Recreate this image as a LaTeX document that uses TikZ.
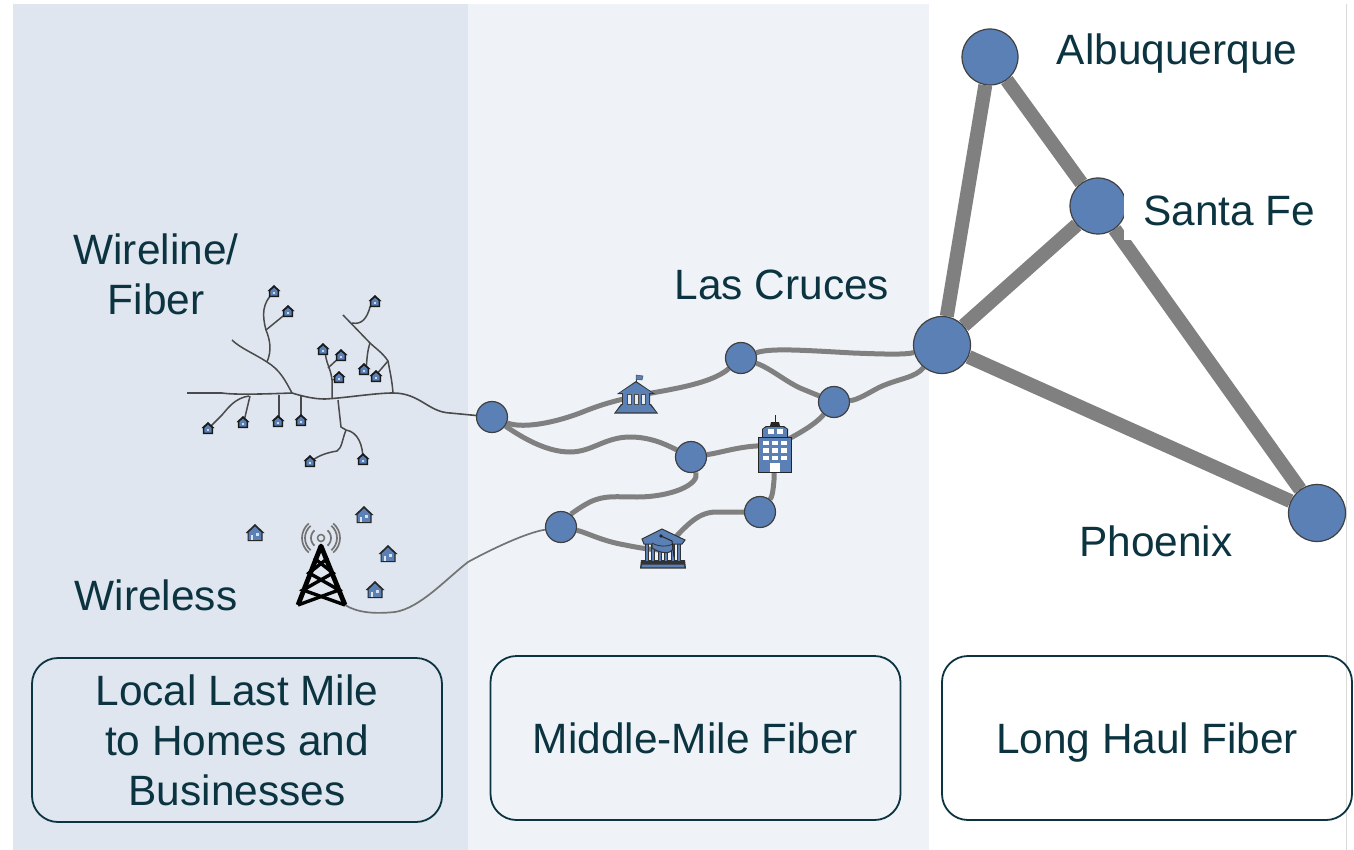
\documentclass[tikz,border=0pt]{standalone}
\usepackage{fontspec}
\setmainfont{Liberation Sans}
\definecolor{panelA}{HTML}{DFE6F0}
\definecolor{panelB}{HTML}{EFF3F8}
\definecolor{nodeblue}{HTML}{5A80B5}
\definecolor{inkdark}{HTML}{0B3440}
\definecolor{linkgrey}{HTML}{808080}
\definecolor{wire}{HTML}{4A4A4A}
\pgfdeclarelayer{panels}
\pgfdeclarelayer{links}
\pgfsetlayers{panels,links,main}
\tikzset{
  x=1pt,y=-1pt,
  hub/.style={circle,draw=black!75,fill=nodeblue,line width=1.2pt,inner sep=0pt},
  bighub/.style={hub,minimum size=56pt},
  midhub/.style={hub,minimum size=31pt},
  citytext/.style={text=inkdark,font=\fontsize{42.4}{50}\selectfont,align=center,inner sep=0pt},
  panelbox/.style={citytext,draw=inkdark,line width=1.8pt,rounded corners=26pt,minimum width=410pt,minimum height=164pt},
  longhaul/.style={draw=linkgrey,line width=14pt},
  midlink/.style={draw=linkgrey,line width=5pt},
  thinwire/.style={draw=wire,line width=1.5pt},
  wiretrunk/.style={draw=wire,line width=1.6pt},
  pics/house/.style={code={
    \fill[black!85] (-9.5,0) -- (0,-9) -- (9.5,0) -- (7.5,0) -- (7.5,8) -- (-7.5,8) -- (-7.5,0) -- cycle;
    \fill[nodeblue] (-6.3,-0.5) -- (0,-6.5) -- (6.3,-0.5) -- (6.3,6.8) -- (-6.3,6.8) -- cycle;
    \fill[white!80!nodeblue] (-4.5,1.5) rectangle (-1.8,6.8);
    \fill[white!75!nodeblue] (1,-0.5) rectangle (4.2,2.5);
  }},
  pics/smallhouse/.style={code={
    \fill[black!90] (-6.5,-1) -- (0,-7) -- (6.5,-1) -- (5.2,-1) -- (5.2,5.2) -- (-5.2,5.2) -- (-5.2,-1) -- cycle;
    \fill[nodeblue] (-3.6,-1) -- (0,-4.4) -- (3.6,-1) -- (3.6,3.7) -- (-3.6,3.7) -- cycle;
    \fill[white!70!nodeblue] (-0.9,-0.3) rectangle (1.3,1.9);
  }}
}
\begin{document}
\begin{tikzpicture}
\useasboundingbox (0,0) rectangle (1354,850);
\begin{pgfonlayer}{panels}
\fill[white] (0,0) rectangle (1354,850);
\fill[panelA] (13,4) rectangle (468,850);
\fill[panelB] (468,4) rectangle (929,850);
\draw[black!15,line width=0.9pt] (1346,4) -- (1346,850);
\end{pgfonlayer}

% long-haul hubs
\node[bighub] (alb) at (990,57) {};
\node[bighub] (sf) at (1098,206) {};
\node[bighub,minimum size=57pt] (las) at (942,345) {};
\node[bighub,minimum size=57pt] (phx) at (1317,513) {};

% middle-mile hubs
\node[midhub] (a) at (492,417) {};
\node[midhub] (b) at (741,358) {};
\node[midhub] (c) at (834,402) {};
\node[midhub] (d) at (691,457) {};
\node[midhub] (e) at (561,527) {};
\node[midhub] (f) at (760,512) {};
\coordinate (gov) at (636,396);
\coordinate (tower) at (775,446);
\coordinate (uni) at (663,550);
\coordinate (w0) at (187,393);
\coordinate (t1) at (345,605);

\begin{pgfonlayer}{links}
\path[longhaul] (alb) -- (sf);
\path[longhaul] (alb) -- (las);
\path[longhaul] (sf) -- (las);
\path[longhaul] (sf) -- (phx);
\path[longhaul] (las) -- (phx);

\path[midlink] (a) .. controls (520,428) and (548,425) .. (580,413) .. controls (600,405) and (610,402) .. (gov);
\path[midlink] (gov) .. controls (665,390) and (710,385) .. (b);
\path[midlink] (a) .. controls (520,436) and (545,452) .. (570,452) .. controls (592,452) and (605,437) .. (630,437) .. controls (650,437) and (665,444) .. (d);
\path[midlink] (b) .. controls (770,348) and (800,350) .. (853,353) .. controls (880,354) and (905,355) .. (las);
\path[midlink] (b) .. controls (770,368) and (785,381) .. (800,388) .. controls (812,393) and (822,397) .. (c);
\path[midlink] (c) .. controls (858,400) and (870,392) .. (880,387) .. controls (900,378) and (915,378) .. (las);
\path[midlink] (d) .. controls (725,452) and (745,444) .. (tower);
\path[midlink] (tower) .. controls (795,436) and (815,425) .. (c);
\path[midlink] (d) .. controls (700,485) and (670,497) .. (637,497) .. controls (615,497) and (605,495) .. (590,502) .. controls (580,507) and (570,515) .. (e);
\path[midlink] (e) .. controls (585,532) and (600,540) .. (620,544) .. controls (635,547) and (650,550) .. (uni);
\path[midlink] (uni) .. controls (685,528) and (695,513) .. (715,512) -- (f);
\path[midlink] (tower) -- (774,480) .. controls (773,492) and (772,497) .. (f);

\path[wiretrunk,line width=2.2pt] (w0) -- (222,393);
\path[wiretrunk] (222,393) .. controls (235,395) and (265,394) .. (292,393) .. controls (305,397) and (315,399) .. (325,399) .. controls (345,398) and (375,393) .. (393,393) .. controls (420,393) and (428,412) .. (450,413) -- (a);
\path[thinwire] (292,393) .. controls (285,380) and (280,370) .. (267,362) .. controls (255,354) and (240,348) .. (232,340);
\path[thinwire] (267,362) .. controls (272,350) and (270,340) .. (266,330) .. controls (262,315) and (262,303) .. (274,292);
\path[thinwire] (266,330) -- (288,312);
\path[thinwire] (249,396) .. controls (235,398) and (228,408) .. (222,415) -- (208,429);
\path[thinwire] (250,396) -- (245,417) -- (243,423);
\path[thinwire] (279,395) -- (279,422);
\path[thinwire] (301,396) -- (301,421);
\path[thinwire] (332,398) -- (332,380) .. controls (330,365) and (326,365) .. (325,350);
\path[thinwire] (328,368) -- (341,356);
\path[thinwire] (332,380) -- (339,378);
\path[thinwire] (338,400) -- (341,427) -- (346,430);
\path[thinwire] (346,430) .. controls (342,440) and (342,448) .. (337,451) .. controls (325,453) and (318,456) .. (310,462);
\path[thinwire] (346,430) .. controls (358,432) and (363,445) .. (363,460);
\path[thinwire] (393,393) .. controls (392,380) and (390,372) .. (388,361) .. controls (382,352) and (375,348) .. (370,343) -- (343,315);
\path[thinwire] (352,323) .. controls (362,325) and (367,318) .. (370,307) -- (375,302);
\path[thinwire] (370,343) .. controls (367,352) and (367,360) .. (366,370);
\path[thinwire] (388,361) -- (376,375);
\path[thinwire,line width=1.7pt,draw=black!55] (t1) .. controls (358,613) and (375,614) .. (395,612) .. controls (420,608) and (445,580) .. (468,562) .. controls (490,550) and (525,533) .. (e);
\end{pgfonlayer}

% government building
\begin{scope}[shift={(gov)}]
  \fill[black!80] (-22,17.5) -- (-15,8) -- (-14,8) -- (-14,-2) -- (-19,-2) -- (0,-15) -- (19,-2) -- (14,-2) -- (14,8) -- (15,8) -- (22,17.5) -- cycle;
  \fill[nodeblue] (-20,16.3) -- (-14,9.2) -- (-13,9.2) -- (-13,-3.2) -- (-16,-3.2) -- (0,-13.5) -- (16,-3.2) -- (13,-3.2) -- (13,9.2) -- (14,9.2) -- (20,16.3) -- cycle;
  \foreach \xx in {-7,0,7} {\fill[white!85!nodeblue,draw=black!70,line width=0.6pt] (\xx-1.8,-2) rectangle (\xx+1.8,8.5);}
  \draw[black!80,line width=0.9pt] (0,-14) -- (0,-21);
  \fill[nodeblue,draw=black!70,line width=0.5pt] (0,-21) -- (7,-20) -- (6,-16) -- (0,-16.5) -- cycle;
\end{scope}

% office tower
\begin{scope}[shift={(tower)}]
  \draw[black!85,line width=1pt] (0,-22) -- (0,-31);
  \fill[black!85] (-5,-20) -- (-4,-24) -- (4,-24) -- (5,-20) -- cycle;
  \fill[black!85] (-13,-9) -- (-13,-17) -- (-9,-20) -- (9,-20) -- (13,-17) -- (13,-9) -- cycle;
  \fill[nodeblue] (-11.8,-9) -- (-11.8,-17) -- (-8,-19) -- (8,-19) -- (11.8,-17) -- (11.8,-9) -- cycle;
  \fill[black!85] (-17,-9) rectangle (17,27);
  \fill[nodeblue] (-15.8,-7.8) rectangle (15.8,25.6);
  \foreach \xx in {-4.5,4.5} {\fill[white] (\xx-3,-17) rectangle (\xx+3,-12);}
  \foreach \xx in {-9,0,9} \foreach \yy in {-3,4.5,12} {\fill[white] (\xx-3.1,\yy-2.4) rectangle (\xx+3.1,\yy+2.4);}
  \fill[white] (-5,16.5) rectangle (5,25.6);
\end{scope}

% university
\begin{scope}[shift={(uni)}]
  \fill[black!80] (-23,18.5) -- (-22,10) -- (22,10) -- (23,18.5) -- cycle;
  \fill[nodeblue] (-21.5,17.3) -- (-20.8,14.5) -- (20.8,14.5) -- (21.5,17.3) -- cycle;
  \foreach \xx in {-16,-10,-3,3,10,16} {\fill[nodeblue,draw=black!80,line width=0.7pt] (\xx-1.8,-7) rectangle (\xx+1.8,11);}
  \fill[nodeblue,draw=black!80,line width=1pt] (-21,-11) -- (-1,-21) -- (22,-10) -- (19,-6) -- (10,-6) -- (10,-1) .. controls (8,4) and (-2,4) .. (-11,-2) -- (-11,-6) -- (-19,-6) -- cycle;
  \draw[black!80,line width=0.8pt] (-11,-7) .. controls (-4,-3) and (4,-3) .. (10,-6);
  \draw[black!85,line width=1pt] (-2,-14) -- (9,-9) -- (11,7);
  \fill[black!85] (-2,-14) circle[radius=1.9pt];
\end{scope}

% fibre drops
\foreach \hx/\hy in {274/292,288/312,323/350,341/356,339/378,364/370,376/377,375/302,208/429,243/423,278/422,301/421,310/462,363/460}
  \pic at (\hx,\hy) {smallhouse};
\foreach \hx/\hy in {255/533,364/515,388/554,375/590}
  \pic at (\hx,\hy) {house};

% radio mast
\draw[black,line width=4.8pt,line join=round] (298,605) -- (321,546) -- (345,605);
\draw[black,line width=3.4pt] (298,605) -- (339,590) -- (309,573) -- (328,558);
\draw[black,line width=3.4pt] (345,605) -- (303,590) -- (333,573) -- (314,558);
\node[circle,draw=black!55,fill=none,line width=1.5pt,minimum size=7pt,inner sep=0pt] (ant) at (321,538) {};
\foreach \rr in {10,16,19} {
  \draw[black!55,line width=1.7pt] plot[smooth,domain=-50:50,samples=9] ({321+\rr*cos(\x)},{538+\rr*sin(\x)});
  \draw[black!55,line width=1.7pt] plot[smooth,domain=130:230,samples=9] ({321+\rr*cos(\x)},{538+\rr*sin(\x)});
}

% city and access labels
\node[citytext,text depth=0pt] (albL) at (1177,49) {Albuquerque};
\node[citytext,fill=white,minimum width=200pt,minimum height=54pt,anchor=west] (sfL) at (1124,213) {\hspace*{19pt}\raisebox{5pt}{Santa Fe}\hspace*{12pt}};
\node[citytext] (lasL) at (782,285) {Las Cruces};
\node[citytext] (phxL) at (1156,541) {Phoenix};
\node[citytext] (fib) at (156,274) {Wireline/\\Fiber};
\node[citytext] (wl) at (156,595) {Wireless};

% tier boxes
\node[panelbox] (box1) at (237,740) {Local Last Mile\\to Homes and\\Businesses};
\node[panelbox] (box2) at (695.5,738) {Middle-Mile Fiber};
\node[panelbox,text depth=0pt] (box3) at (1147,738) {Long Haul Fiber};
\end{tikzpicture}
\end{document}
